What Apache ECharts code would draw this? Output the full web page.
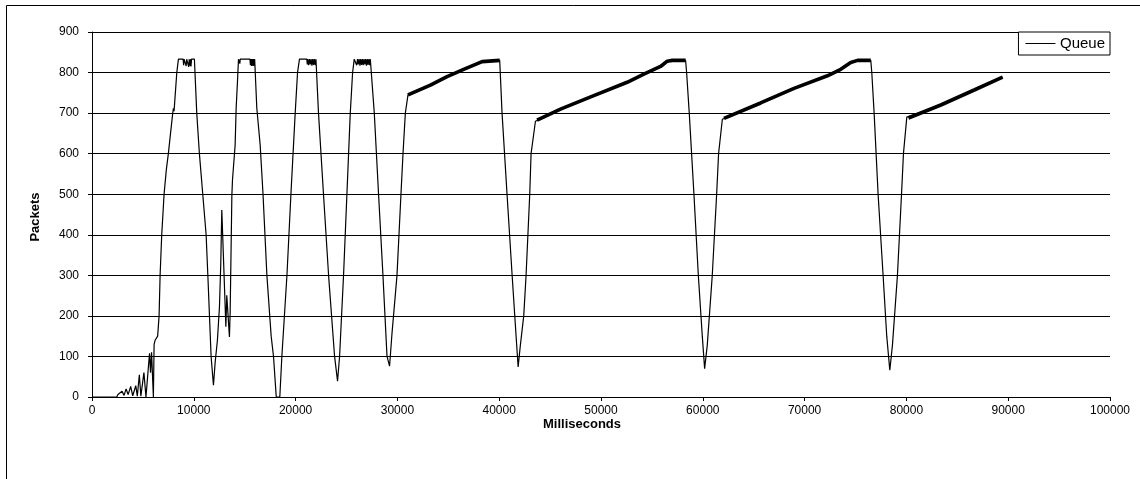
<!DOCTYPE html>
<html>
<head>
<meta charset="utf-8">
<script src="https://cdn.jsdelivr.net/npm/echarts@6/dist/echarts.min.js"></script>
<style>
  html, body { margin: 0; padding: 0; background: #fff; }
  #chart { width: 1140px; height: 479px; }
</style>
</head>
<body>
<div id="chart"></div>
<script>
// Queue length (packets) over time (ms)
const seriesName = 'Queue';
const xTicks = [0, 10000, 20000, 30000, 40000, 50000, 60000, 70000, 80000, 90000, 100000];
const yTicks = [0, 100, 200, 300, 400, 500, 600, 700, 800, 900];

// start-up: slow start oscillations, first fill
const startup = [
  [0,0],[2430,0],[2550,6],[2700,2],[2950,14],[3150,4],[3350,20],[3550,6],[3800,26],[4000,3],
  [4300,28],[4450,2],[4650,55],[4800,2],[5100,60],[5300,0],[5650,108],[5750,60],[5850,110],
  [6030,0],[6100,130],[6200,140],[6300,138],[6450,150],[6590,200],[6690,300],[6850,400],
  [7080,500],[7300,560],[7500,600],[7930,700],[8000,712],[8060,705],[8330,800]
];
const plateau1 = [
  [8490,833],[8950,833],[9000,818],[9050,833],[9200,833],[9250,816],[9300,833],[9450,833],
  [9500,814],[9550,833],[9600,817],[9650,833],[9720,815],[9780,833],[10060,833]
];
const cycle1 = [
  [10290,700],[10550,600],[10880,500],[11210,400],[11380,300],[11540,200],[11700,100],[11930,29],
  [12100,86],[12320,140],[12520,222],[12650,329],[12750,461],[13150,173],[13240,251],[13500,148],
  [13570,207],[13740,498],[13800,535],[14060,621],[14160,712],[14290,778]
];
const plateau2 = [
  [14390,833],[14480,833],[14520,822],[14560,833],[15520,833],[15560,818],[15620,833],[15680,816],
  [15740,833],[15800,817],[15860,833],[15920,816],[15980,833],[16030,833]
];
const cycle2 = [
  [16190,712],[16520,621],[16800,500],[17180,300],[17600,150],[17830,100],[18100,0],[18450,0],
  [18650,100],[19150,300],[19540,500],[19960,700],[20190,800]
];
const plateau3 = [
  [20380,833],[21100,833],[21150,820],[21200,833],[21280,818],[21360,833],[21440,820],[21520,833],
  [21600,817],[21680,833],[21760,819],[21840,833],[21920,818],[22000,833],[22090,833]
];
const cycle3 = [
  [22250,700],[22740,500],[23240,300],[23830,100],[24120,39],
  [24320,100],[24710,300],[25040,500],[25370,700],[25600,800]
];
const plateau4 = [
  [25760,833],[25950,833],[26000,818],[26080,833],[26160,820],[26240,833],[26320,817],[26400,833],
  [26480,819],[26560,833],[26640,818],[26720,833],[26800,820],[26880,833],[26960,817],[27040,833],
  [27120,819],[27200,833],[27280,818],[27340,833],[27400,833]
];
const cycle4 = [
  [27730,700],[28150,500],[28580,300],[28980,100],[29230,76],
  [29470,157],[29960,300],[30350,500],[30550,600],[30780,700]
];
// long cycles: linear queue growth with a dense jitter band
const ramp5 = [[31040,745],[31200,742],[33240,769],[34880,790],[36510,808],[38320,827],[40050,830]];
const drop5 = [
  [40280,700],[40770,500],[41270,300],[41660,150],[41860,74],[42080,128],[42410,200],[42640,300],
  [43000,500],[43130,600],[43560,680]
];
const ramp6 = [[43720,683],[46020,710],[49290,743],[52570,776],[54210,796],[55850,815],[56510,828],[57000,830],[58310,830]];
const drop6 = [
  [58410,800],[58670,700],[59130,500],[59560,300],[59950,150],[60180,70],[60440,128],[60930,300],
  [61360,500],[61550,600],[61920,685]
];
const ramp7 = [[62080,687],[65680,725],[68960,761],[72240,792],[73550,808],[74530,825],[75200,830],[76500,830]];
const drop7 = [
  [76600,800],[76830,700],[77220,500],[77710,300],[78070,150],[78370,66],[78630,128],[79120,300],
  [79520,500],[79710,600],[80040,690]
];
const ramp8 = [[80200,688],[83380,720],[86660,757],[89450,789]];

const trace = [].concat(
  startup, plateau1, cycle1, plateau2, cycle2, plateau3, cycle3, plateau4, cycle4,
  ramp5, drop5, ramp6, drop6, ramp7, drop7, ramp8
);
const jitterBands = [ramp5, ramp6, ramp7, ramp8];

const FONT = '"Liberation Sans", Arial, sans-serif';
const chart = echarts.init(document.getElementById('chart'), null, { renderer: 'canvas' });

const series = [{
  name: seriesName,
  type: 'line',
  data: trace,
  showSymbol: false,
  symbol: 'none',
  lineStyle: { color: '#000', width: 1.2 },
  itemStyle: { color: '#000' },
  animation: false,
  z: 3
}].concat(jitterBands.map(band => ({
  name: seriesName,
  type: 'line',
  data: band,
  showSymbol: false,
  symbol: 'none',
  lineStyle: { color: '#000', width: 3.6 },
  itemStyle: { color: '#000' },
  animation: false,
  z: 3
})));

chart.setOption({
  animation: false,
  backgroundColor: '#fff',
  grid: { left: 92, right: 30, top: 32, bottom: 82, containLabel: false },
  legend: {
    data: [seriesName],
    right: 30,
    top: 32,
    orient: 'vertical',
    icon: 'path://M0,0H30V1H0Z',
    itemWidth: 31,
    itemHeight: 1,
    itemGap: 4,
    padding: [4, 5, 4, 7],
    borderColor: '#000',
    borderWidth: 1,
    borderRadius: 0,
    backgroundColor: '#fff',
    selectedMode: false,
    textStyle: { color: '#000', fontSize: 15, fontFamily: FONT, padding: [0, 0, 0, -1] }
  },
  xAxis: {
    type: 'value',
    min: xTicks[0],
    max: xTicks[xTicks.length - 1],
    interval: xTicks[1] - xTicks[0],
    axisLine: { show: true, lineStyle: { color: '#000', width: 1 } },
    axisTick: { show: true, length: 4, inside: false, lineStyle: { color: '#000' } },
    axisLabel: { color: '#000', fontSize: 12, fontFamily: FONT, margin: 8, formatter: v => String(v) },
    splitLine: { show: false }
  },
  yAxis: {
    type: 'value',
    min: yTicks[0],
    max: yTicks[yTicks.length - 1],
    interval: yTicks[1] - yTicks[0],
    axisLine: { show: true, lineStyle: { color: '#000', width: 1 } },
    axisTick: { show: true, length: 4, inside: false, lineStyle: { color: '#000' } },
    axisLabel: { color: '#000', fontSize: 12, fontFamily: FONT, margin: 13, formatter: v => String(v) },
    splitLine: { show: true, lineStyle: { color: '#000', width: 1 } }
  },
  graphic: [
    {
      type: 'rect', silent: true, z: -10,
      shape: { x: 6.5, y: 5.5, width: 1200, height: 600 },
      style: { fill: 'none', stroke: '#000', lineWidth: 1 }
    },
    {
      type: 'text', silent: true,
      x: 582, y: 424,
      style: { text: 'Milliseconds', fill: '#000', font: 'bold 13px ' + FONT, align: 'center', verticalAlign: 'middle' }
    },
    {
      type: 'text', silent: true,
      x: 35.5, y: 217, rotation: Math.PI / 2,
      style: { text: 'Packets', fill: '#000', font: 'bold 13px ' + FONT, align: 'center', verticalAlign: 'middle' }
    }
  ],
  series: series
});
</script>
</body>
</html>
